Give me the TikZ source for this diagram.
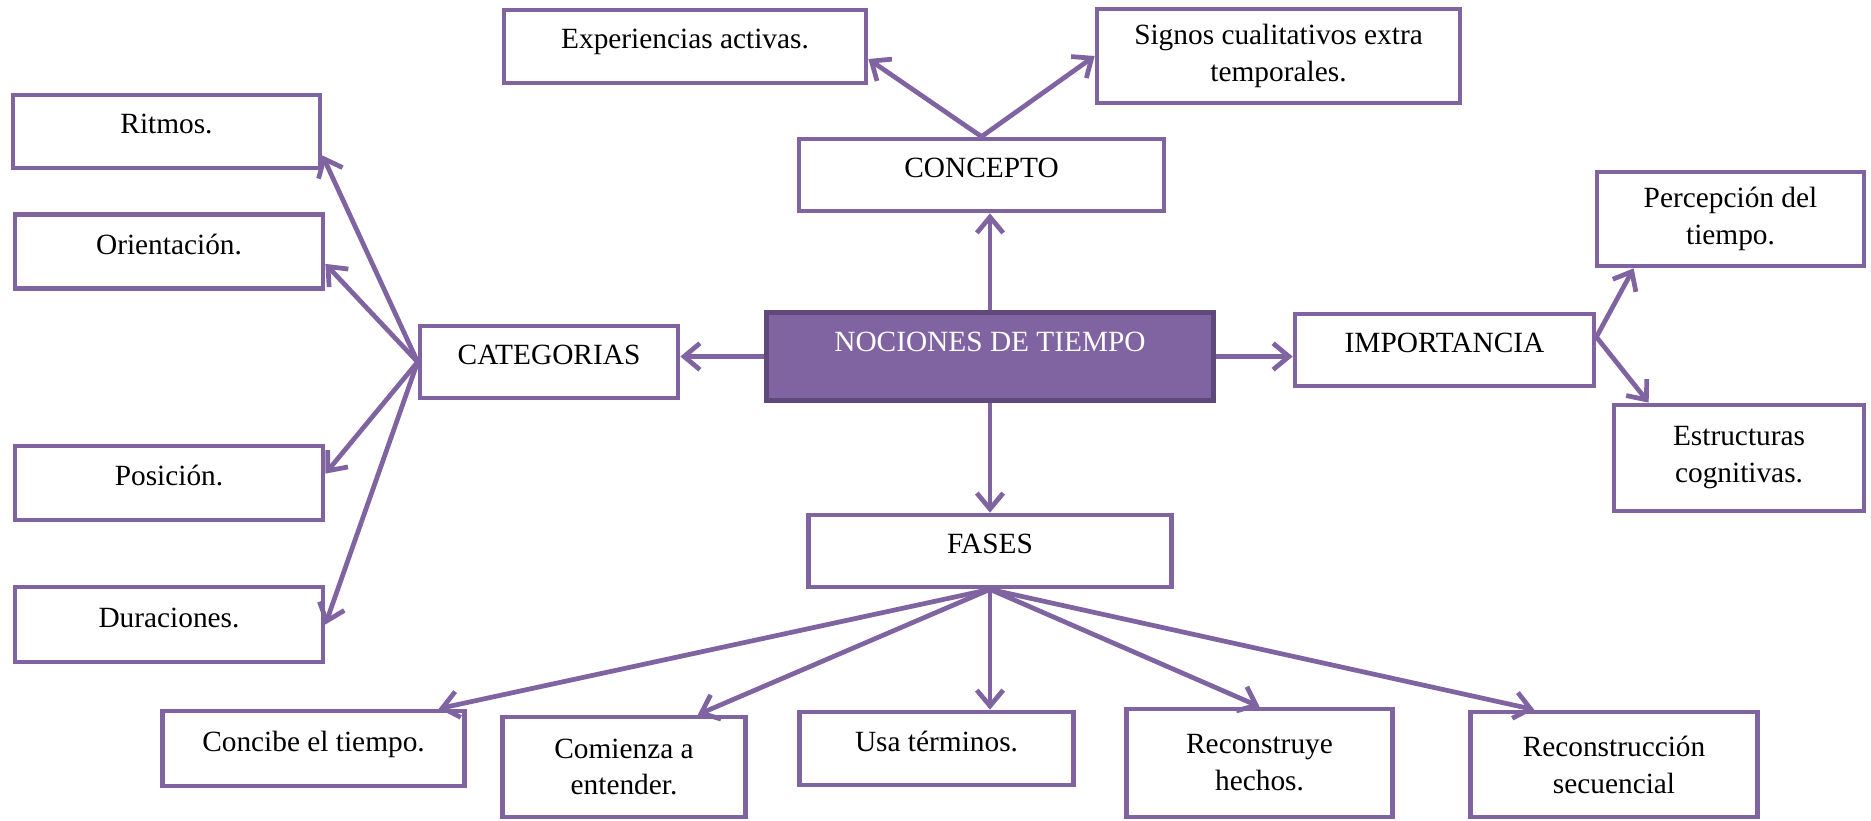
\documentclass[tikz,border=0pt]{standalone}
\usepackage{fontspec}
\setmainfont{Liberation Serif}
\usetikzlibrary{arrows.meta}

\definecolor{lila}{RGB}{128,100,162}
\definecolor{lilaOscuro}{RGB}{94,73,122}

\tikzstyle{caja} = [rectangle, draw=lila, line width=2.7pt, fill=white, text centered, font=\fontsize{16.7}{21}\selectfont, inner sep=0pt]
\tikzstyle{unaLinea} = [caja, text height=0.45cm, text depth=0.35cm]
\tikzstyle{dosLineas} = [caja, align=center]
\tikzstyle{central} = [rectangle, draw=lilaOscuro, line width=3pt, fill=lila, text=white, font=\fontsize{16.7}{21}\selectfont, inner sep=0pt, text height=0.45cm, text depth=0.65cm]
\tikzstyle{flecha} = [draw=lila, line width=2.7pt, -{Straight Barb[length=9pt,width=15pt]}]

\begin{document}
\begin{tikzpicture}[node distance=2cm]
    \useasboundingbox (0,0) rectangle (37.42,-16.4);

    \node (nociones)[central, minimum width=8.94cm, minimum height=1.76cm] at (19.8,-7.13) {NOCIONES DE TIEMPO};

    \node (concepto)[unaLinea, minimum width=7.3cm, minimum height=1.44cm, above of=nociones, yshift=1.63cm, xshift=-0.17cm] {CONCEPTO};
    \node (experiencias)[unaLinea, minimum width=7.24cm, minimum height=1.46cm, left of=concepto, xshift=-3.93cm, yshift=2.57cm] {Experiencias activas.};
    \node (signos)[dosLineas, minimum width=7.26cm, minimum height=1.88cm, right of=concepto, xshift=3.94cm, yshift=2.38cm] {Signos cualitativos extra \\ temporales.};

    \node (categorias)[unaLinea, minimum width=5.16cm, minimum height=1.44cm, left of=nociones, xshift=-6.82cm, yshift=-0.11cm] {CATEGORIAS};
    \node (ritmos)[unaLinea, minimum width=6.14cm, minimum height=1.46cm, left of=categorias, xshift=-5.65cm, yshift=4.61cm] {Ritmos.};
    \node (orientacion)[unaLinea, minimum width=6.16cm, minimum height=1.48cm, left of=categorias, xshift=-5.6cm, yshift=2.21cm] {Orientación.};
    \node (posicion)[unaLinea, minimum width=6.16cm, minimum height=1.48cm, left of=categorias, xshift=-5.6cm, yshift=-2.42cm] {Posición.};
    \node (duraciones)[unaLinea, minimum width=6.16cm, minimum height=1.5cm, left of=categorias, xshift=-5.6cm, yshift=-5.25cm] {Duraciones.};

    \node (importancia)[unaLinea, minimum width=5.98cm, minimum height=1.44cm, right of=nociones, xshift=7.09cm, yshift=0.13cm] {IMPORTANCIA};
    \node (percepcion)[dosLineas, minimum width=5.34cm, minimum height=1.88cm, right of=importancia, xshift=3.72cm, yshift=2.62cm] {Percepción del \\ tiempo.};
    \node (estructuras)[dosLineas, minimum width=5.0cm, minimum height=2.12cm, right of=importancia, xshift=3.89cm, yshift=-2.16cm] {Estructuras \\ cognitivas.};

    \node (fases)[unaLinea, minimum width=7.26cm, minimum height=1.44cm, below of=nociones, yshift=-1.89cm] {FASES};
    \node (concibe)[unaLinea, minimum width=6.04cm, minimum height=1.5cm, below of=fases, xshift=-13.53cm, yshift=-1.95cm] {Concibe el tiempo.};
    \node (comienza)[dosLineas, minimum width=4.86cm, minimum height=2.0cm, below of=fases, xshift=-7.32cm, yshift=-2.32cm] {Comienza a \\ entender.};
    \node (usa)[unaLinea, minimum width=5.48cm, minimum height=1.46cm, below of=fases, xshift=-1.07cm, yshift=-1.95cm] {Usa términos.};
    \node (reconstruye)[dosLineas, minimum width=5.32cm, minimum height=2.16cm, below of=fases, xshift=5.39cm, yshift=-2.24cm] {Reconstruye \\ hechos.};
    \node (reconstruccion)[dosLineas, minimum width=5.74cm, minimum height=2.1cm, below of=fases, xshift=12.48cm, yshift=-2.27cm] {Reconstrucción \\ secuencial};

    \draw [flecha] (nociones.north) -- (nociones.north |- concepto.south);
    \draw [flecha] (nociones.south) -- (nociones.south |- fases.north);
    \draw [flecha] (nociones.west) -- (nociones.west -| categorias.east);
    \draw [flecha] (nociones.east) -- (nociones.east -| importancia.west);

    \draw [flecha] (concepto.north) -- ([yshift=-0.25cm]experiencias.east);
    \draw [flecha] (concepto.north) -- (signos.west);

    \draw [flecha] (categorias.west) -- ([yshift=0.3cm]ritmos.south east);
    \draw [flecha] (categorias.west) -- ([yshift=0.54cm]orientacion.south east);
    \draw [flecha] (categorias.west) -- ([yshift=-0.6cm]posicion.north east);
    \draw [flecha] (categorias.west) -- (duraciones.east);

    \draw [flecha] ([yshift=0.26cm]importancia.east) -- ([xshift=0.78cm]percepcion.south west);
    \draw [flecha] ([yshift=0.26cm]importancia.east) -- ([xshift=0.74cm]estructuras.north west);

    \draw [flecha] (fases.south) -- ([xshift=-0.56cm]concibe.north east);
    \draw [flecha] (fases.south) -- ([xshift=-1cm]comienza.north east);
    \draw [flecha] (fases.south) -- (fases.south |- usa.north);
    \draw [flecha] (fases.south) -- (reconstruye.north);
    \draw [flecha] (fases.south) -- ([xshift=1.32cm]reconstruccion.north west);
  \end{tikzpicture}
\end{document}
